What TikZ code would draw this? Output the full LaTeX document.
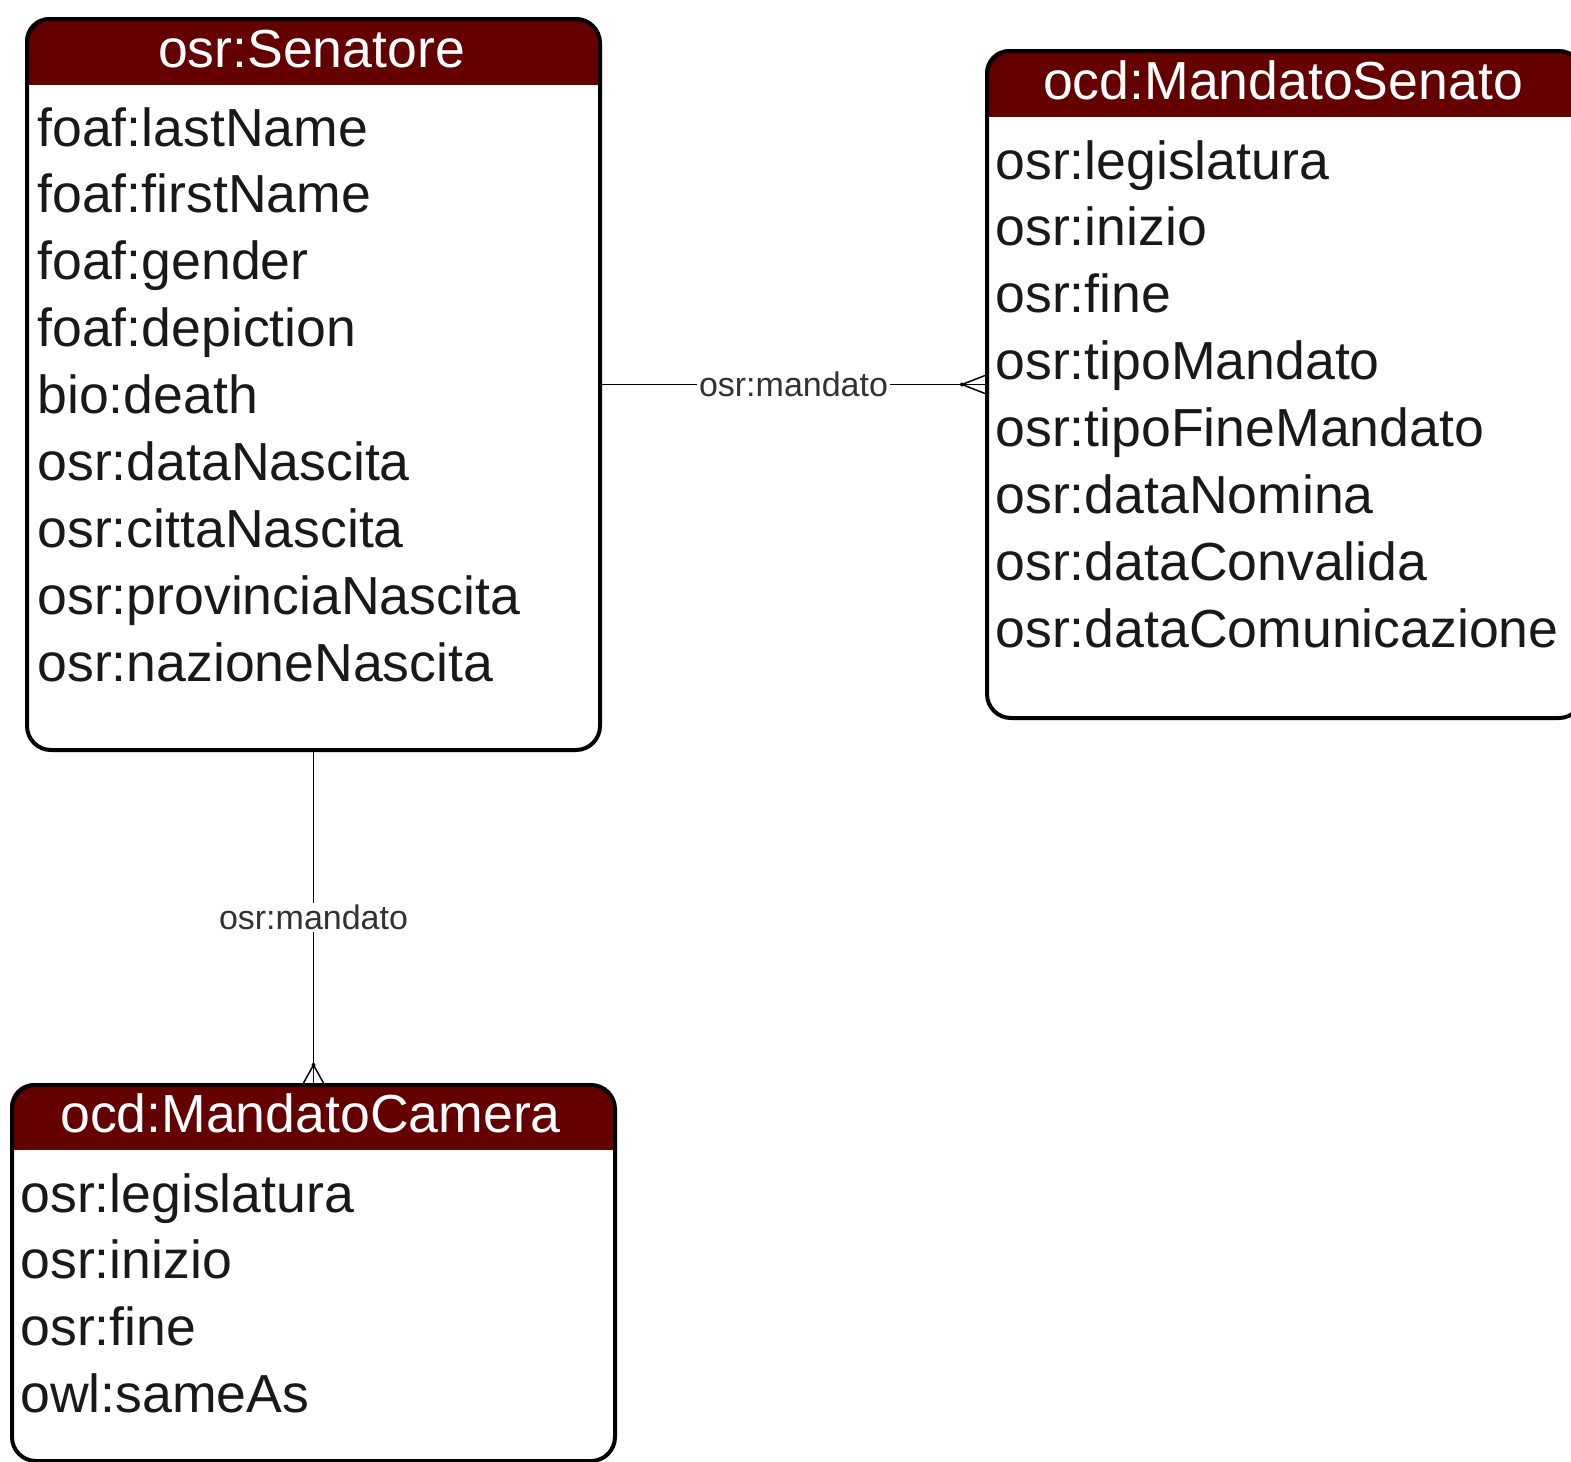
\documentclass[tikz,border=0pt]{standalone}
\usepackage{fontspec}
\setmainfont{Liberation Sans}
\usetikzlibrary{positioning}
\definecolor{hdrred}{RGB}{100,0,0}
\definecolor{relgray}{RGB}{50,50,50}
\begin{document}
\begin{tikzpicture}[x=1pt,y=-1pt,line join=round,line cap=round,
  entity/.style={draw,line width=2pt,rounded corners=12pt,inner sep=0pt,anchor=north west},
  attr/.style={font=\fontsize{26.8}{32}\selectfont,anchor=base west,inner sep=0pt,text=black!90},
  hdr/.style={font=\fontsize{26.8}{32}\selectfont,anchor=base,text=white,inner sep=0pt},
  rel/.style={font=\fontsize{17}{20}\selectfont,fill=white,inner sep=1pt,text=relgray},
  link/.style={line width=0.75pt}]
\useasboundingbox (0,0) rectangle (785.5,731);
% header bands
\begin{scope}
\clip[rounded corners=12pt] (12.5,8.5) rectangle (299,374);
\fill[hdrred] (12.5,8.5) rectangle (299,42.5);
\end{scope}
\begin{scope}
\clip[rounded corners=12pt] (492.5,24.5) rectangle (790.5,358);
\fill[hdrred] (492.5,24.5) rectangle (790.5,58.5);
\end{scope}
\begin{scope}
\clip[rounded corners=12pt] (5,541.5) rectangle (306.5,729.5);
\fill[hdrred] (5,541.5) rectangle (306.5,575);
\end{scope}
% entities
\node[entity,minimum width=286.5pt,minimum height=365.5pt] (senatore) at (12.5,8.5) {};
\node[entity,minimum width=298pt,minimum height=333.5pt] (senato) at (492.5,24.5) {};
\node[entity,minimum width=301.5pt,minimum height=188pt] (camera) at (5,541.5) {};
\node[hdr] (senatore-h) at (155.75,33.5) {osr:Senatore};
\node[hdr] (senato-h) at (641.5,49.5) {ocd:MandatoSenato};
\node[hdr] (camera-h) at (155.25,566) {ocd:MandatoCamera};
\foreach \t [count=\i from 0] in {foaf:lastName,foaf:firstName,foaf:gender,foaf:depiction,bio:death,osr:dataNascita,osr:cittaNascita,osr:provinciaNascita,osr:nazioneNascita}
  \node[attr] (senatore-\i) at (18.5,73+33.45*\i) {\t};
\foreach \t [count=\i from 0] in {osr:legislatura,osr:inizio,osr:fine,osr:tipoMandato,osr:tipoFineMandato,osr:dataNomina,osr:dataConvalida,osr:dataComunicazione}
  \node[attr] (senato-\i) at (497.5,89.5+33.45*\i) {\t};
\foreach \t [count=\i from 0] in {osr:legislatura,osr:inizio,osr:fine,owl:sameAs}
  \node[attr] (camera-\i) at (10,606+33.45*\i) {\t};
% relations
\draw[link] (senatore.east) -- node[rel] (rel-senato) {osr:mandato} (senato.west);
\coordinate[left=11.5pt of senato.west] (foot-senato);
\draw[link] ([yshift=4.5pt]senato.west) -- (foot-senato) -- ([yshift=-4.5pt]senato.west);
\fill (foot-senato) circle(1pt);
\draw[link] (senatore.south) -- node[rel] (rel-camera) {osr:mandato} (camera.north);
\coordinate[above=9pt of camera.north] (foot-camera);
\draw[link] ([xshift=-5pt]camera.north) -- (foot-camera) -- ([xshift=5pt]camera.north);
\fill (foot-camera) circle(1pt);
\end{tikzpicture}
\end{document}
